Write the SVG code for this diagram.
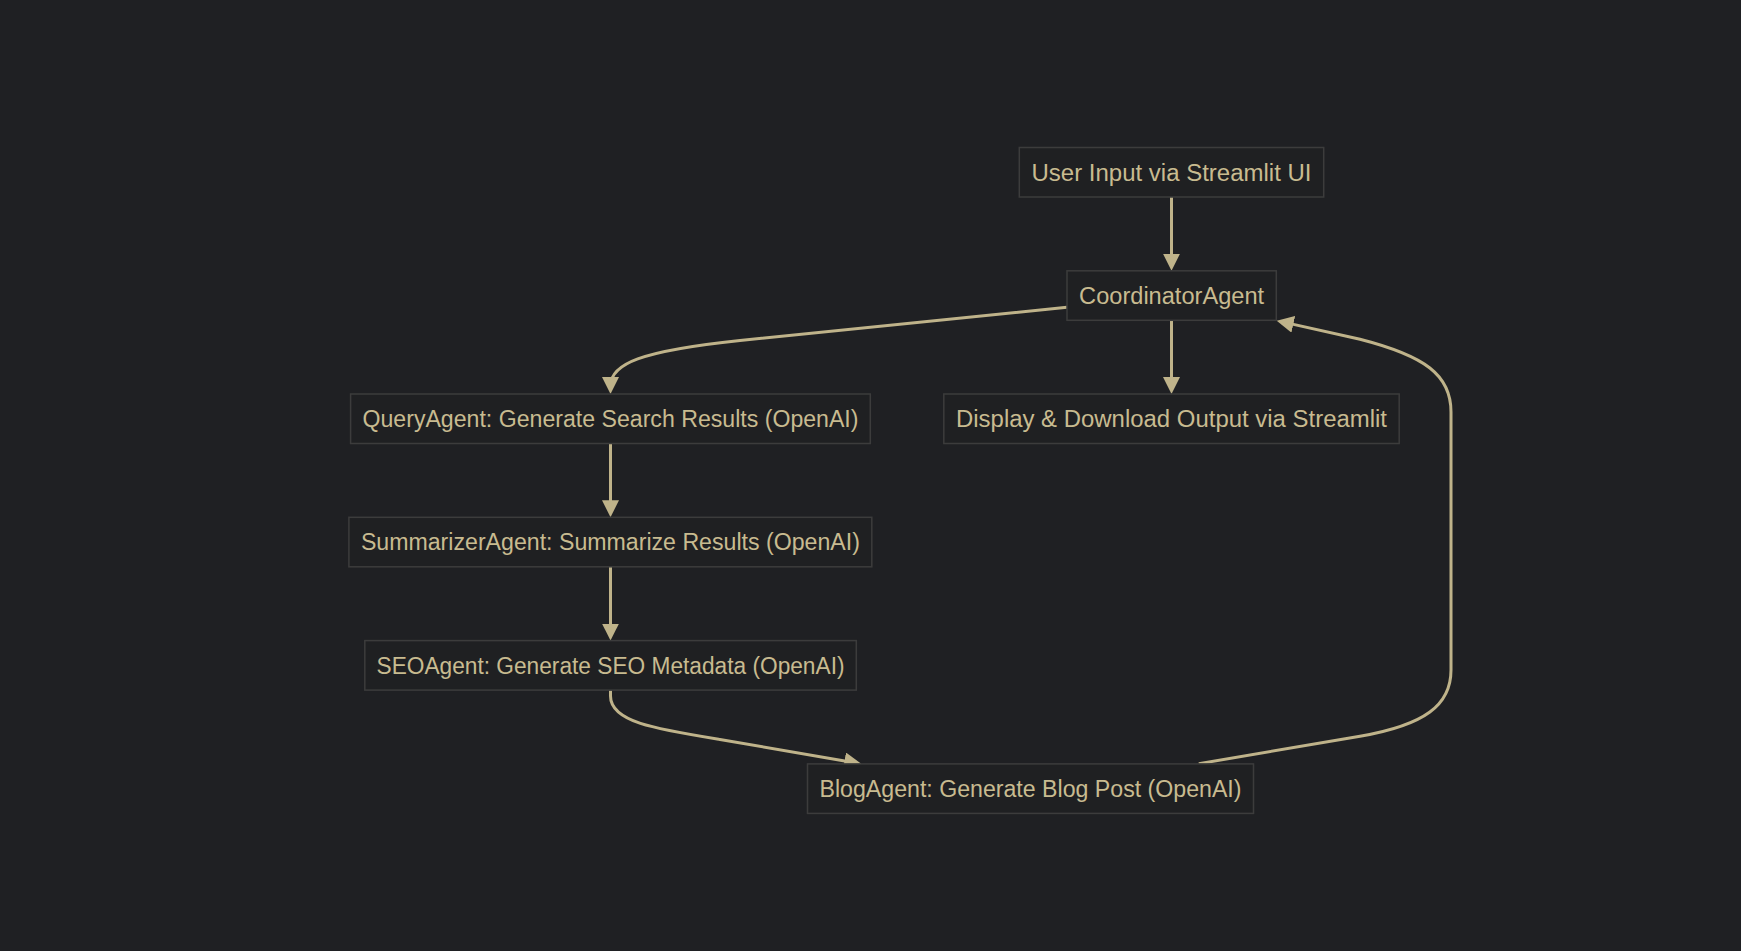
<svg xmlns="http://www.w3.org/2000/svg" width="1741" height="951" viewBox="0 0 1741 951">
<style>
.bg{fill:#1f2023}
.node rect{fill:#1f2022;stroke:#3c3c3c;stroke-width:1.5}
.node text{fill:#c8bb90;font-family:"Liberation Sans",Arial,sans-serif;font-size:23.5px;text-anchor:middle}
.edge{fill:none;stroke:#bfb38a;stroke-width:3}
</style>
<defs>
<marker id="arr" viewBox="0 0 10 10" refX="5.3" refY="5" markerUnits="userSpaceOnUse" markerWidth="17" markerHeight="17" orient="auto">
<path d="M0,0 L10,5 L0,10 z" fill="#bfb38a"/>
</marker>
</defs>
<rect class="bg" x="0" y="0" width="1741" height="951"/>
<g id="connectors">
<path class="edge" marker-end="url(#arr)" d="M1171.5,197 L1171.5,262.8"/>
<path class="edge" marker-end="url(#arr)" d="M1171.5,320.3 L1171.5,386"/>
<path class="edge" marker-end="url(#arr)" d="M1067,307.3 L740,340.5 C640,351 610.5,364 610.5,386"/>
<path class="edge" marker-end="url(#arr)" d="M610.5,443.7 L610.5,509.3"/>
<path class="edge" marker-end="url(#arr)" d="M610.5,567 L610.5,632.6"/>
<path class="edge" marker-end="url(#arr)" d="M610.5,690.3 L610.5,696 C610.5,722 655,729 720,739.5 L853.4,762.4"/>
<path class="edge" marker-end="url(#arr)" d="M1198.8,763.7 L1360,736.3 C1425,725 1451,705 1451,670 L1451,412 C1451,375 1425,356 1360,339.3 L1284.5,322.4"/>
</g>
<g id="user-input" class="node">
<rect x="1019.3" y="147.5" width="304.4" height="49.5"/>
<text x="1171.5" y="180.6" textLength="280" lengthAdjust="spacingAndGlyphs">User Input via Streamlit UI</text>
</g>
<g id="coordinator" class="node">
<rect x="1067" y="270.8" width="209.3" height="49.5"/>
<text x="1171.6" y="303.8" textLength="185" lengthAdjust="spacingAndGlyphs">CoordinatorAgent</text>
</g>
<g id="query" class="node">
<rect x="350.6" y="394" width="519.7" height="49.5"/>
<text x="610.5" y="427" textLength="496" lengthAdjust="spacingAndGlyphs">QueryAgent: Generate Search Results (OpenAI)</text>
</g>
<g id="display" class="node">
<rect x="943.8" y="394" width="455.4" height="49.5"/>
<text x="1171.5" y="427" textLength="431" lengthAdjust="spacingAndGlyphs">Display &amp; Download Output via Streamlit</text>
</g>
<g id="summarizer" class="node">
<rect x="348.9" y="517.3" width="522.9" height="49.5"/>
<text x="610.4" y="550.3" textLength="499" lengthAdjust="spacingAndGlyphs">SummarizerAgent: Summarize Results (OpenAI)</text>
</g>
<g id="seo" class="node">
<rect x="364.8" y="640.6" width="491.5" height="49.5"/>
<text x="610.5" y="673.6" textLength="468" lengthAdjust="spacingAndGlyphs">SEOAgent: Generate SEO Metadata (OpenAI)</text>
</g>
<g id="blog" class="node">
<rect x="807.5" y="763.9" width="446" height="49.5"/>
<text x="1030.5" y="796.9" textLength="422" lengthAdjust="spacingAndGlyphs">BlogAgent: Generate Blog Post (OpenAI)</text>
</g>
</svg>
